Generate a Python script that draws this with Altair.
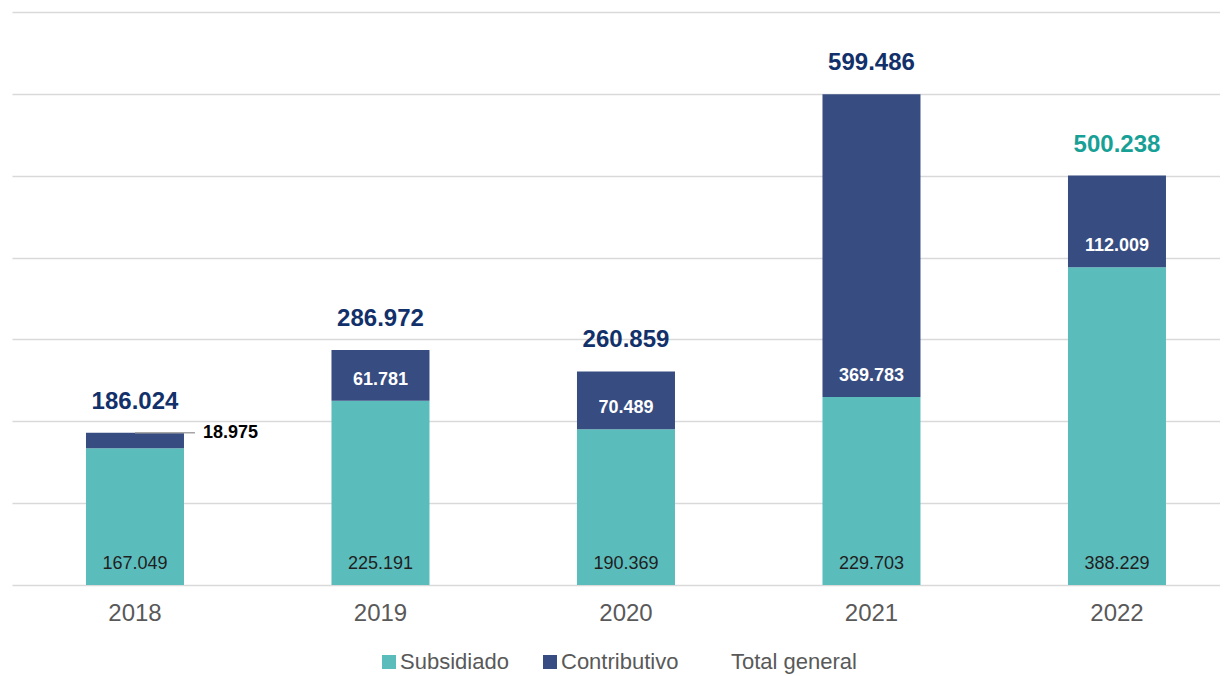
import altair as alt
import pandas as pd

years = ["2018", "2019", "2020", "2021", "2022"]
subsidiado = [167049, 225191, 190369, 229703, 388229]
contributivo = [18975, 61781, 70489, 369783, 112009]
total = [186024, 286972, 260859, 599486, 500238]
series = ["Subsidiado", "Contributivo", "Total general"]
grid_values = [0, 100000, 200000, 300000, 400000, 500000, 600000, 700000]

FONT = "Liberation Sans"
TEAL = "#5BBCBC"
NAVY = "#374C80"
TOTAL_NAVY = "#12306A"
TOTAL_TEAL = "#17A096"


def fmt(v):
    return f"{v:,}".replace(",", ".")


rows = []
for i, y in enumerate(years):
    rows.append(dict(year=y, serie="Subsidiado", orden=0, value=subsidiado[i],
                     base=0, label=fmt(subsidiado[i]), total=total[i]))
    rows.append(dict(year=y, serie="Contributivo", orden=1, value=contributivo[i],
                     base=subsidiado[i], label=fmt(contributivo[i]), total=total[i]))
bars_df = pd.DataFrame(rows)
tot_df = pd.DataFrame({"year": years, "total": total,
                       "label": [fmt(v) for v in total]})

xscale = alt.Scale(paddingInner=0.6008, paddingOuter=0.2607, align=0.578)
xaxis = alt.Axis(title=None, labelAngle=0, labelFontSize=24,
                 labelColor="#595959", labelFont=FONT, ticks=False,
                 tickSize=0, domain=False, labelPadding=16, grid=False)
xenc = alt.X("year:N", sort=years, scale=xscale, axis=xaxis)
yscale = alt.Scale(domain=[0, 700000], nice=False, zero=True)
yaxis = alt.Axis(title=None, labels=False, ticks=False, domain=False,
                 grid=True, values=grid_values, gridColor="#D9D9D9",
                 gridWidth=1.5)

bars = alt.Chart(bars_df).mark_bar().encode(
    x=xenc,
    y=alt.Y("value:Q", stack="zero", scale=yscale, axis=yaxis),
    color=alt.Color("serie:N",
                    scale=alt.Scale(domain=series, range=[TEAL, NAVY, "transparent"]),
                    legend=alt.Legend(title=None, orient="none", direction="horizontal",
                                      legendX=366, legendY=639,
                                      labelFontSize=22, labelFont=FONT,
                                      labelColor="#595959", symbolType="square",
                                      symbolSize=196, symbolStrokeWidth=0,
                                      columnPadding=30, labelOffset=0)),
    order=alt.Order("orden:Q", sort="ascending"),
)

sub_labels = alt.Chart(bars_df).transform_filter(
    alt.datum.serie == "Subsidiado"
).mark_text(dy=-21, fontSize=18, color="#1F1F1F", font=FONT, baseline="middle").encode(
    x=xenc,
    y=alt.Y("base:Q", scale=yscale, axis=yaxis),
    text="label:N",
)

con_labels = alt.Chart(bars_df).transform_filter(
    (alt.datum.serie == "Contributivo") & (alt.datum.year != "2018")
).mark_text(dy=-21, fontSize=18, fontWeight="bold", color="white", font=FONT,
            baseline="middle").encode(
    x=xenc,
    y=alt.Y("base:Q", scale=yscale, axis=yaxis),
    text="label:N",
)

small_df = bars_df[(bars_df.serie == "Contributivo") & (bars_df.year == "2018")]

leader = alt.Chart(small_df).mark_rule(color="#A6A6A6", strokeWidth=1.5,
                                       x2Offset=60).encode(
    x=xenc,
    x2=alt.X2("year"),
    y=alt.Y("total:Q", scale=yscale, axis=yaxis),
)

small_label = alt.Chart(small_df).mark_text(
    dx=68, align="left", baseline="middle", fontSize=18, fontWeight="bold",
    color="black", font=FONT).encode(
    x=xenc,
    y=alt.Y("total:Q", scale=yscale, axis=yaxis),
    text="label:N",
)

tot_labels = alt.Chart(tot_df).mark_text(
    dy=-31, fontSize=24, fontWeight="bold", font=FONT, baseline="middle").encode(
    x=xenc,
    y=alt.Y("total:Q", scale=yscale, axis=yaxis),
    text="label:N",
    color=alt.condition(alt.datum.year == "2022", alt.value(TOTAL_TEAL),
                        alt.value(TOTAL_NAVY)),
)

chart = alt.layer(bars, sub_labels, con_labels, leader, small_label, tot_labels).properties(
    width=1208, height=573,
    autosize=alt.AutoSizeParams(type="none"),
    padding={"left": 4, "top": 4, "right": 0, "bottom": 91},
).configure(font=FONT).configure_view(strokeWidth=0)

chart.save("out.html", embed_options={"renderer": "svg", "actions": False})
